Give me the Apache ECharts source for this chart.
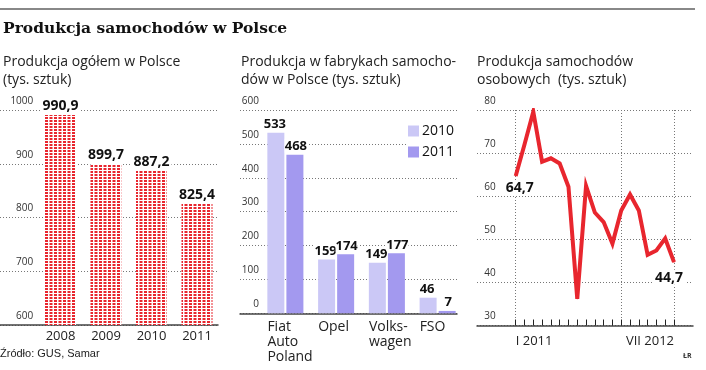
<!DOCTYPE html>
<html>
<head>
<meta charset="utf-8">
<script src="https://cdn.jsdelivr.net/npm/echarts@6/dist/echarts.min.js"></script>
<style>
html, body { margin: 0; padding: 0; background: #fff; }
#chart { width: 706px; height: 370px; }
</style>
</head>
<body>
<div id="chart"></div>
<script>
// dane
const years = ['2008', '2009', '2010', '2011'];
const totalProd = [990.9, 899.7, 887.2, 825.4];

const factories = ['Fiat\nAuto\nPoland', 'Opel', 'Volks-\nwagen', 'FSO'];
const fact2010 = [533, 159, 149, 46];
const fact2011 = [468, 174, 177, 7];

const months = ['I 2011', 'II 2011', 'III 2011', 'IV 2011', 'V 2011', 'VI 2011', 'VII 2011', 'VIII 2011',
    'IX 2011', 'X 2011', 'XI 2011', 'XII 2011', 'I 2012', 'II 2012', 'III 2012', 'IV 2012', 'V 2012',
    'VI 2012', 'VII 2012'];
const passenger = [64.7, 72.0, 79.6, 68.0, 68.8, 67.6, 62.2, 36.2, 62.4, 56.2, 54.0, 49.0, 56.7,
    60.4, 56.7, 46.4, 47.4, 50.2, 44.7];

const FONT = '"Open Sans", sans-serif';
const RED = '#e8262e';

function comma(v) {
    return v.toFixed(1).replace('.', ',');
}

// kratka na słupkach
function makePattern() {
    const c = document.createElement('canvas');
    c.width = 9;
    c.height = 3;
    const ctx = c.getContext('2d');
    ctx.fillStyle = '#fff';
    ctx.fillRect(0, 0, 9, 3);
    ctx.fillStyle = RED;
    ctx.fillRect(0, 0, 3, 2);
    ctx.fillRect(4.5, 0, 3, 2);
    return c;
}

const chart = echarts.init(document.getElementById('chart'));

const dotted = { show: true, lineStyle: { color: '#777', type: [1, 2], width: 1 } };
const baseLine = { show: true, lineStyle: { color: '#444', width: 1.5 } };
const off = { show: false };

function bgX(grid) {
    return { gridIndex: grid, type: 'value', min: 0, max: 1, axisLine: baseLine, axisTick: off, axisLabel: off, splitLine: off };
}
function bgY(grid, min, max, step) {
    return { gridIndex: grid, type: 'value', min: min, max: max, interval: step, axisLine: off, axisTick: off, axisLabel: off, splitLine: dotted };
}
function labY(grid, min, max, step, margin) {
    return {
        gridIndex: grid, type: 'value', min: min, max: max, interval: step,
        axisLine: off, axisTick: off, splitLine: off,
        axisLabel: {
            fontFamily: FONT, fontSize: 10, color: '#333', margin: margin, verticalAlign: 'bottom', padding: [0, 0, 4, 0],
            formatter: function (v) { return String(v); }
        }
    };
}
const boldLabel = {
    show: true, position: 'top', distance: 2, fontFamily: FONT, fontWeight: 'bold', fontSize: 14,
    color: '#111', backgroundColor: '#fff', padding: [1, 2, 0, 2]
};
const smallBold = Object.assign({}, boldLabel, { fontSize: 13, padding: [1, 0, 0, 0] });

const option = {
    animation: false,
    grid: [
        { left: 0, top: 110, width: 218, height: 215, outerBoundsMode: 'none' },
        { left: 37.75, top: 110, width: 182, height: 215, outerBoundsMode: 'none' },
        { left: 240, top: 110, width: 217, height: 203.3, outerBoundsMode: 'none' },
        { left: 260, top: 110, width: 203, height: 203.3, outerBoundsMode: 'none' },
        { left: 242, top: 110, width: 203, height: 203.3, outerBoundsMode: 'none' },
        { left: 477, top: 110, width: 216, height: 215.5, outerBoundsMode: 'none' },
        { left: 515.7, top: 110, width: 158.3, height: 215.5, outerBoundsMode: 'none' }
    ],
    legend: {
        data: ['2010', '2011'], orient: 'vertical', left: 406, top: 122,
        itemWidth: 11, itemHeight: 11, itemGap: 7, icon: 'rect',
        backgroundColor: '#fff', padding: [2, 4, 2, 2],
        textStyle: { fontFamily: FONT, fontSize: 14, color: '#111', padding: [0, 0, 0, -2] }
    },
    xAxis: [
        bgX(0),
        {
            gridIndex: 1, type: 'category', data: years, axisLine: off, axisTick: off,
            axisLabel: { fontFamily: FONT, fontSize: 13, color: '#222', margin: 5 }
        },
        bgX(2),
        { gridIndex: 3, type: 'category', data: factories, axisLine: off, axisTick: off, axisLabel: off },
        {
            gridIndex: 4, type: 'category', data: factories, axisLine: off, axisTick: off,
            axisLabel: { fontFamily: FONT, fontSize: 14, color: '#222', margin: 6, align: 'left', lineHeight: 15, interval: 0 }
        },
        bgX(5),
        {
            gridIndex: 6, type: 'category', data: months, boundaryGap: false, axisLine: off,
            axisTick: { show: true, inside: true, length: 6, interval: 0, lineStyle: { color: '#222', width: 1 } },
            splitLine: {
                show: true, interval: function (i) { return i === 0 || i === 12 || i === 18; },
                lineStyle: { color: '#777', type: [1, 2], width: 1 }
            },
            axisLabel: {
                fontFamily: FONT, fontSize: 13, color: '#222', margin: 9,
                interval: function (i) { return i === 0 || i === 18; },
                alignMinLabel: 'left', alignMaxLabel: 'right'
            }
        }
    ],
    yAxis: [
        bgY(0, 600, 1000, 100),
        labY(1, 600, 1000, 100, 4.5),
        bgY(2, 0, 600, 100),
        labY(3, 0, 600, 100, 1),
        { gridIndex: 4, type: 'value', min: 0, max: 600, show: false },
        bgY(5, 30, 80, 10),
        labY(6, 30, 80, 10, 20)
    ],
    series: [
        {
            type: 'bar', xAxisIndex: 1, yAxisIndex: 1, data: totalProd, barWidth: 31,
            itemStyle: { color: { image: makePattern(), repeat: 'repeat' } },
            label: Object.assign({}, boldLabel, { formatter: function (p) { return comma(p.value); } })
        },
        {
            name: '2010', type: 'bar', xAxisIndex: 3, yAxisIndex: 3, data: fact2010, barWidth: 17, barGap: '12%',
            itemStyle: { color: '#cbc8f6' }, label: Object.assign({}, smallBold, { offset: [-1, 0] })
        },
        {
            name: '2011', type: 'bar', xAxisIndex: 3, yAxisIndex: 3, data: fact2011, barWidth: 17, barGap: '12%',
            itemStyle: { color: '#a399ef' }, label: Object.assign({}, smallBold, { offset: [1, 0] })
        },
        {
            type: 'line', xAxisIndex: 6, yAxisIndex: 6, showSymbol: true, symbol: 'circle', symbolSize: 1,
            itemStyle: { color: RED },
            lineStyle: { color: RED, width: 4, join: 'miter' },
            label: { show: false },
            data: passenger.map(function (v, i) {
                if (i === 0 || i === passenger.length - 1) {
                    return {
                        value: v,
                        label: Object.assign({}, boldLabel, {
                            position: 'bottom', distance: 4,
                            offset: i === 0 ? [4, 0] : [-5, 3],
                            formatter: function (p) { return comma(p.value); }
                        })
                    };
                }
                return v;
            })
        }
    ],
    graphic: [
        { type: 'rect', shape: { x: 0, y: 8, width: 695, height: 2 }, style: { fill: '#888' } },
        {
            type: 'text', left: 3, top: 21,
            style: { text: 'Produkcja samochodów w Polsce', fontFamily: '"DejaVu Serif", serif', fontWeight: 'bold', fontSize: 15.5, fill: '#111' }
        },
        {
            type: 'text', left: 3, top: 53,
            style: { text: 'Produkcja ogółem w Polsce\n(tys. sztuk)', fontFamily: FONT, fontSize: 14, lineHeight: 18, fill: '#222' }
        },
        {
            type: 'text', left: 241, top: 53,
            style: { text: 'Produkcja w fabrykach samocho-\ndów w Polsce (tys. sztuk)', fontFamily: FONT, fontSize: 14, lineHeight: 18, fill: '#222' }
        },
        {
            type: 'text', left: 477, top: 53,
            style: { text: 'Produkcja samochodów\nosobowych  (tys. sztuk)', fontFamily: FONT, fontSize: 14, lineHeight: 18, fill: '#222' }
        },
        {
            type: 'text', left: 0, top: 348,
            style: { text: 'Źródło: GUS, Samar', fontFamily: '"Liberation Sans Narrow", "Liberation Sans", sans-serif', fontSize: 11, fill: '#222' }
        },
        {
            type: 'text', left: 683, top: 352,
            style: { text: 'ŁR', fontFamily: FONT, fontWeight: 'bold', fontSize: 7, fill: '#333' }
        }
    ]
};

chart.setOption(option);
</script>
</body>
</html>
